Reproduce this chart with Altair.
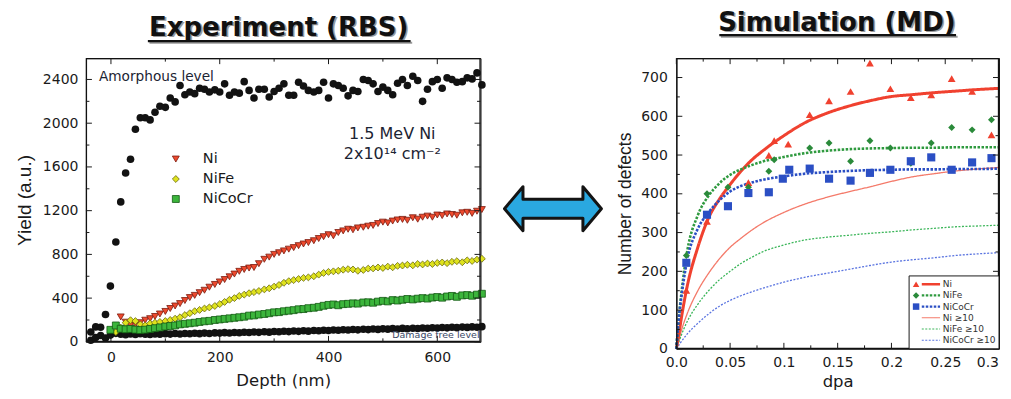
import altair as alt
import pandas as pd

FONT = "DejaVu Sans"
FONT_R = "Liberation Sans"
INK = "#1a1a1a"

# ================= Experiment (RBS) data =================
depth_nm = [-37, -28, -19, -10, -1, 9, 18, 27, 36, 45, 54, 63, 72, 81, 90, 100, 109, 118, 127, 136,
            145, 154, 163, 172, 181, 191, 200, 209, 218, 227, 236, 245, 254, 263, 272, 282, 291, 300, 309, 318,
            327, 336, 345, 354, 363, 373, 382, 391, 400, 409, 418, 427, 436, 445, 454, 464, 473, 482, 491, 500,
            509, 518, 527, 536, 545, 555, 564, 573, 582, 591, 600, 609, 618, 627, 636, 646, 655, 664, 673, 682]

amorphous_yield = [90, 137, 134, 250, 510, 913, 1280, 1545, 1670, 1945, 2050, 2050, 2030, 2100, 2155, 2145, 2230, 2195, 2345, 2260,
                   2285, 2270, 2320, 2310, 2285, 2305, 2285, 2360, 2255, 2285, 2275, 2380, 2300, 2230, 2310, 2310, 2240, 2290, 2320, 2360,
                   2255, 2255, 2375, 2340, 2300, 2285, 2300, 2375, 2230, 2360, 2345, 2320, 2250, 2300, 2290, 2400, 2390, 2360, 2290, 2330,
                   2300, 2260, 2365, 2400, 2345, 2430, 2390, 2200, 2310, 2380, 2400, 2320, 2415, 2400, 2375, 2380, 2415, 2405, 2460, 2350]

damage_free_yield = [15, 40, 58, 35, 62, 78, 70, 66, 72, 68, 74, 70, 67, 73, 70, 75, 71, 76, 72, 77,
                     74, 79, 75, 80, 77, 82, 80, 84, 81, 86, 83, 88, 85, 90, 87, 92, 89, 95, 92, 97,
                     94, 99, 96, 101, 98, 104, 101, 106, 104, 109, 106, 111, 108, 113, 110, 115, 112, 117, 114, 119,
                     116, 121, 118, 123, 120, 125, 122, 127, 124, 129, 126, 131, 128, 133, 130, 135, 132, 137, 134, 139]

ni_yield = [None, None, None, None, None, None, 228, 180, 152, 160, 175, 198, 212, 232, 255, 278, 305, 328, 350, 378,
            405, 425, 450, 472, 500, 525, 548, 570, 595, 620, 645, 662, 675, 680, 715, 755, 775, 800, 815, 832,
            848, 862, 880, 895, 908, 925, 945, 962, 980, 970, 1000, 1015, 1030, 1025, 1042, 1048, 1058, 1065, 1082, 1095,
            1088, 1105, 1115, 1120, 1112, 1135, 1122, 1140, 1150, 1140, 1160, 1155, 1170, 1165, 1158, 1180, 1185, 1175, 1195, 1210]

nife_yield = [None, None, None, None, None, 90, 130, 175, 198, 190, 160, 150, 168, 175, 182, 190, 200, 212, 225, 245,
              262, 280, 292, 305, 315, 328, 345, 365, 385, 400, 420, 432, 445, 455, 465, 480, 490, 505, 520, 540,
              555, 565, 575, 585, 590, 600, 615, 630, 640, 645, 650, 660, 665, 662, 650, 658, 670, 672, 680, 676,
              688, 682, 695, 698, 705, 700, 712, 708, 716, 712, 722, 726, 720, 732, 738, 728, 745, 740, 752, 760]

nicocr_yield = [None, None, None, None, 110, 150, 120, 115, 118, 112, 108, 112, 118, 125, 132, 140, 145, 150, 160, 165,
                170, 175, 182, 188, 192, 200, 205, 210, 215, 220, 225, 230, 240, 242, 250, 255, 262, 270, 272, 280,
                285, 290, 298, 300, 308, 312, 320, 330, 338, 342, 335, 345, 348, 352, 350, 360, 362, 358, 368, 375,
                370, 382, 378, 385, 392, 388, 395, 400, 396, 405, 410, 404, 415, 420, 412, 425, 428, 422, 432, 440]

rbs_series = ["Ni", "NiFe", "NiCoCr"]
rbs_fill = ["#ee4a2e", "#dfe21e", "#3cb53c"]
rbs_stroke = ["#7a1a0e", "#6a6a10", "#145a14"]
rbs_shape = ["triangle-down", "diamond", "square"]

left_x_major = [0, 200, 400, 600]
left_x_minor = [100, 300, 500]
left_y_major = [0, 400, 800, 1200, 1600, 2000, 2400]
left_y_minor = [200, 600, 1000, 1400, 1800, 2200]

# ================= Simulation (MD) data =================
ni_dpa = [0.0093, 0.0285, 0.067, 0.086, 0.091, 0.104, 0.124, 0.142, 0.162, 0.180, 0.199, 0.218, 0.237, 0.256, 0.275, 0.293]
ni_defects = [151, 329, 429, 499, 537, 528, 604, 640, 664, 737, 671, 648, 655, 697, 664, 552]
nife_dpa = [0.0093, 0.0285, 0.048, 0.067, 0.086, 0.091, 0.124, 0.142, 0.162, 0.180, 0.199, 0.218, 0.237, 0.256, 0.275, 0.293]
nife_defects = [241, 400, 417, 417, 458, 488, 518, 531, 484, 537, 518, 479, 531, 571, 565, 591]
nicocr_dpa = [0.0093, 0.0285, 0.048, 0.067, 0.086, 0.099, 0.105, 0.124, 0.142, 0.162, 0.180, 0.199, 0.218, 0.237, 0.256, 0.275, 0.293]
nicocr_defects = [222, 346, 368, 402, 404, 439, 462, 465, 439, 434, 454, 462, 484, 494, 462, 481, 492]

fit_dpa = [0, 0.002, 0.005, 0.01, 0.02, 0.03, 0.04, 0.05, 0.06, 0.07, 0.08, 0.1, 0.12, 0.14, 0.16, 0.18, 0.2, 0.22, 0.24, 0.26, 0.28, 0.3]
ni_fit = [0, 32, 85, 160, 262, 338, 386, 424, 458, 487, 510, 550, 584, 608, 626, 640, 651, 656, 661, 665, 669, 672]
nife_fit = [0, 70, 150, 250, 345, 395, 427, 449, 463, 474, 483, 495, 505, 511, 515, 517, 518, 519, 519, 520, 520, 520]
nicocr_fit = [0, 70, 140, 228, 310, 352, 383, 406, 420, 429, 436, 445, 452, 456, 459, 461, 462, 463, 463, 464, 464, 465]
ni10_fit = [0, 20, 50, 90, 150, 195, 232, 262, 285, 306, 324, 352, 374, 391, 405, 418, 432, 444, 452, 459, 464, 468]
nife10_fit = [0, 15, 38, 70, 115, 150, 178, 200, 220, 236, 250, 268, 281, 288, 293, 298, 302, 307, 311, 315, 317, 319]
nicocr10_fit = [0, 8, 20, 38, 66, 90, 110, 125, 137, 147, 156, 172, 185, 195, 205, 215, 224, 230, 235, 241, 245, 248]

right_x_major = [0, 0.05, 0.1, 0.15, 0.2, 0.25, 0.3]
right_x_labels = [0, 0.05, 0.1, 0.15, 0.2, 0.25]
right_x_last = [0.3]
right_x_minor = [0.025, 0.075, 0.125, 0.175, 0.225, 0.275]
right_y_major = [0, 100, 200, 300, 400, 500, 600, 700]
right_y_minor = [50, 150, 250, 350, 450, 550, 650]

md_labels = ["Ni", "NiFe", "NiCoCr", "Ni \u226510", "NiFe \u226510", "NiCoCr \u226510"]
md_colors = ["#f0412f", "#2f9a3f", "#2b4fc4", "#f47a6a", "#3cb65a", "#5a74e0"]
md_widths = [3.0, 2.6, 2.6, 1.3, 1.3, 1.3]
md_dashes = [[1, 0], [2.5, 1.5], [2.5, 1.5], [1, 0], [2, 1.5], [2, 1.5]]
md_marker_shape = ["triangle-up", "diamond", "square", None, None, None]
md_marker_color = ["#f0412f", "#2a8a3a", "#2b4fc4", None, None, None]

ARROW = ("M -0.97 0 L -0.6 -0.44 L -0.6 -0.19 L 0.6 -0.19 L 0.6 -0.44 L 0.97 0 "
         "L 0.6 0.44 L 0.6 0.19 L -0.6 0.19 L -0.6 0.44 Z")

one = pd.DataFrame({"k": [0]})


def txt(text, x, y, **kw):
    return alt.Chart(one).mark_text(text=text, **kw).encode(x=alt.value(x), y=alt.value(y))


def hrule(x1, x2, y, **kw):
    return alt.Chart(one).mark_rule(**kw).encode(x=alt.value(x1), x2=alt.value(x2), y=alt.value(y))


def frame(W, H):
    return alt.Chart(one).mark_rect(fill="white", fillOpacity=0, stroke="#111111", strokeWidth=1.3,
                                    strokeOpacity=1).encode(
        x=alt.value(0.5), x2=alt.value(W - 0.5), y=alt.value(0.5), y2=alt.value(H - 0.5))


def frame_ticks(xscale, yscale, xmaj, xmin, ymaj, ymin, W, H, lmaj=6, lmin=3.5):
    out = []
    for vals, L in [(ymaj, lmaj), (ymin, lmin)]:
        d = pd.DataFrame({"t": vals})
        yy = alt.Y("t:Q", scale=yscale)
        out.append(alt.Chart(d).mark_rule(color=INK, strokeWidth=1).encode(y=yy, x=alt.value(0), x2=alt.value(L)))
        out.append(alt.Chart(d).mark_rule(color=INK, strokeWidth=1).encode(y=yy, x=alt.value(W - L), x2=alt.value(W)))
    for vals, L in [(xmaj, lmaj), (xmin, lmin)]:
        d = pd.DataFrame({"t": vals})
        xx = alt.X("t:Q", scale=xscale)
        out.append(alt.Chart(d).mark_rule(color=INK, strokeWidth=1).encode(x=xx, y=alt.value(H), y2=alt.value(H - L)))
        out.append(alt.Chart(d).mark_rule(color=INK, strokeWidth=1).encode(x=xx, y=alt.value(0), y2=alt.value(L)))
    return out


def title_block(text, cx, base, ux1, ux2, uy):
    return [
        txt(text, cx + 1.6, base + 1.6, font=FONT, fontSize=26, fontWeight="bold", color="#9a9a9a", align="center", baseline="alphabetic"),
        hrule(ux1 + 1.6, ux2 + 1.6, uy + 1.6, color="#9a9a9a", strokeWidth=2.2),
        txt(text, cx, base, font=FONT, fontSize=26, fontWeight="bold", color="#111111", align="center", baseline="alphabetic"),
        hrule(ux1, ux2, uy, color="#111111", strokeWidth=2.2),
    ]


# ---------------- left chart ----------------
LW, LH = 395, 284
lx = alt.Scale(domain=[-46, 679.5], nice=False, zero=False)
ly = alt.Scale(domain=[0, 2595], nice=False, zero=False)

rows = []
for name, vals in [("amorphous", amorphous_yield), ("damage free", damage_free_yield),
                   ("Ni", ni_yield), ("NiFe", nife_yield), ("NiCoCr", nicocr_yield)]:
    for d, v in zip(depth_nm, vals):
        if v is not None:
            rows.append({"depth": d, "yield": v, "series": name})
rbs = pd.DataFrame(rows)

left_xenc = alt.X("depth:Q", scale=lx, axis=alt.Axis(
    values=left_x_major, format="d", title="Depth (nm)", titleFont=FONT, titleFontSize=16.5,
    titleFontWeight="normal", titleColor=INK, titlePadding=8, labelFont=FONT, labelFontSize=14,
    labelColor=INK, labelPadding=9, ticks=False, tickSize=0, domain=False, grid=False,
    labelFlush=False, labelOverlap=False))
left_yenc = alt.Y("yield:Q", scale=ly, axis=alt.Axis(
    values=left_y_major, format="d", title="Yield (a.u.)", titleFont=FONT_R, titleFontSize=19,
    titleFontWeight="normal", titleColor=INK, titlePadding=8, labelFont=FONT, labelFontSize=14,
    labelColor=INK, labelPadding=8, ticks=False, tickSize=0, domain=False, grid=False,
    labelFlush=False, labelOverlap=False))

black_pts = alt.Chart(rbs).transform_filter(
    alt.FieldOneOfPredicate(field="series", oneOf=["amorphous", "damage free"])
).mark_point(filled=True, shape="circle", size=58, color="#121212", opacity=1).encode(x=left_xenc, y=left_yenc)

color_pts = alt.Chart(rbs).transform_filter(
    alt.FieldOneOfPredicate(field="series", oneOf=rbs_series)
).mark_point(filled=True, size=48, strokeWidth=0.8, opacity=1).encode(
    x=alt.X("depth:Q", scale=lx),
    y=alt.Y("yield:Q", scale=ly),
    shape=alt.Shape("series:N", scale=alt.Scale(domain=rbs_series, range=rbs_shape), legend=None),
    fill=alt.Fill("series:N", scale=alt.Scale(domain=rbs_series, range=rbs_fill), legend=None),
    stroke=alt.Stroke("series:N", scale=alt.Scale(domain=rbs_series, range=rbs_stroke), legend=None),
)

left_layers = [
    black_pts,
    txt("Damage free level", 394, 277, font=FONT, fontSize=9.5, color="#3a4866", align="right", baseline="middle"),
    color_pts,
    frame(LW, LH),
]
left_layers += frame_ticks(lx, ly, left_x_major, left_x_minor, left_y_major, left_y_minor, LW, LH)
left_layers += [
    txt("Amorphous level", 13, 19, font=FONT, fontSize=13.7, color="#1c2433", align="left", baseline="middle"),
    txt("1.5 MeV Ni", 306.7, 75.7, font=FONT, fontSize=16, color="#1c2433", align="center", baseline="middle"),
    txt("2x10\u00b9\u2074 cm\u207b\u00b2", 306.7, 95.7, font=FONT, fontSize=16, color="#1c2433", align="center", baseline="middle"),
]
for i, (nm, sh, fc, sc) in enumerate(zip(rbs_series, rbs_shape, rbs_fill, rbs_stroke)):
    yy = 101 + 20 * i
    left_layers.append(alt.Chart(one).mark_point(shape=sh, filled=True, size=48, fill=fc, stroke=sc,
                                                 strokeWidth=0.8, opacity=1).encode(x=alt.value(90), y=alt.value(yy)))
    left_layers.append(txt(nm, 117, yy, font=FONT, fontSize=14.5, color=INK, align="left", baseline="middle"))
left_layers += title_block("Experiment (RBS)", 193, -22.5, 62, 325, -17)
left_layers.append(alt.Chart(one).mark_point(shape=ARROW, size=10000, filled=True, fill="#2aa8e0",
                                             stroke="#141414", strokeWidth=3, strokeJoin="round", opacity=1)
                   .encode(x=alt.value(467.5), y=alt.value(150.7)))

left = alt.layer(*left_layers).properties(width=LW, height=LH)

# ---------------- right chart ----------------
RW, RH = 323, 291
rx = alt.Scale(domain=[0, 0.3], nice=False, zero=False)
ry = alt.Scale(domain=[0, 750], nice=False, zero=False)

right_xenc = alt.X("dpa:Q", scale=rx, axis=alt.Axis(
    values=right_x_labels,
    labelExpr="datum.value == 0 ? '0.0' : toString(round(datum.value * 100) / 100)",
    title="dpa", titleFont=FONT, titleFontSize=16.5, titleFontWeight="normal", titleColor=INK, titlePadding=4,
    labelFont=FONT, labelFontSize=14, labelColor=INK, labelPadding=7, ticks=False, tickSize=0,
    domain=False, grid=False, labelFlush=False, labelOverlap=False))
right_yenc = alt.Y("defects:Q", scale=ry, axis=alt.Axis(
    values=right_y_major, format="d", title="Number of defects", titleFont=FONT_R, titleFontSize=17.5,
    titleFontWeight="normal", titleColor=INK, titlePadding=6, labelFont=FONT, labelFontSize=14,
    labelColor=INK, labelPadding=9, ticks=False, tickSize=0, domain=False, grid=False,
    labelFlush=False, labelOverlap=False))

fits = [ni_fit, nife_fit, nicocr_fit, ni10_fit, nife10_fit, nicocr10_fit]
right_layers = []
order = [3, 4, 5, 0, 1, 2]
first = True
for k in order:
    d = pd.DataFrame({"dpa": fit_dpa, "defects": fits[k]})
    xe = right_xenc if first else alt.X("dpa:Q", scale=rx)
    ye = right_yenc if first else alt.Y("defects:Q", scale=ry)
    first = False
    right_layers.append(alt.Chart(d).mark_line(color=md_colors[k], strokeWidth=md_widths[k],
                                               strokeDash=md_dashes[k], interpolate="monotone").encode(x=xe, y=ye))

for k, (dp, dv, size) in enumerate([(ni_dpa, ni_defects, 60), (nife_dpa, nife_defects, 48), (nicocr_dpa, nicocr_defects, 66)]):
    d = pd.DataFrame({"dpa": dp, "defects": dv})
    right_layers.append(alt.Chart(d).mark_point(shape=md_marker_shape[k], filled=True, size=size,
                                                color=md_marker_color[k], opacity=1).encode(
        x=alt.X("dpa:Q", scale=rx), y=alt.Y("defects:Q", scale=ry)))

right_layers.append(frame(RW, RH))
right_layers += frame_ticks(rx, ry, right_x_major, right_x_minor, right_y_major, right_y_minor, RW, RH)

# last tick label at the right edge (kept inside the page)
right_layers.append(alt.Chart(pd.DataFrame({"dpa": right_x_last})).mark_text(
    text="0.3", font=FONT, fontSize=14, color=INK, align="right", baseline="top", dx=0
).encode(x=alt.X("dpa:Q", scale=rx), y=alt.value(RH + 7)))

# legend box
right_layers.append(alt.Chart(one).mark_rect(fill="white", stroke=INK, strokeWidth=1).encode(
    x=alt.value(233), x2=alt.value(323), y=alt.value(218), y2=alt.value(291)))
for k in range(6):
    yy = 226.3 + 11.2 * k
    right_layers.append(hrule(245.7, 264, yy, color=md_colors[k], strokeWidth=md_widths[k] * 0.8,
                              strokeDash=md_dashes[k]))
    if md_marker_shape[k]:
        right_layers.append(alt.Chart(one).mark_point(shape=md_marker_shape[k], filled=True, size=42,
                                                      color=md_marker_color[k], opacity=1)
                            .encode(x=alt.value(240), y=alt.value(yy)))
    right_layers.append(txt(md_labels[k], 266.7, yy, font=FONT, fontSize=9, color="#333333",
                            align="left", baseline="middle"))

right_layers += title_block("Simulation (MD)", 160.7, -27.5, 43, 280, -23)

right = alt.layer(*right_layers).properties(width=RW, height=RH)

chart = alt.hconcat(left, right, spacing=196, bounds="flush").properties(
    padding={"left": 6, "top": 1, "right": -3, "bottom": 1}, background="white"
).configure_view(stroke=INK, strokeWidth=1)

chart.save("out.html", embed_options={"renderer": "svg", "actions": False})
